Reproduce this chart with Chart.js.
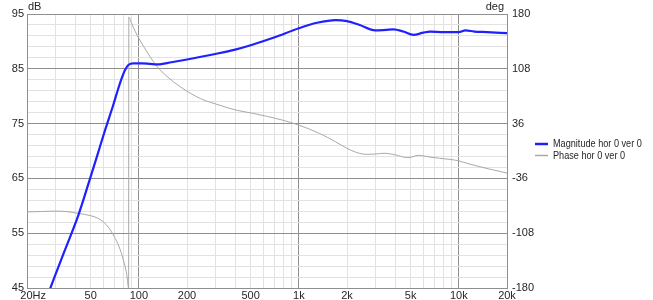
<!DOCTYPE html>
<html><head><meta charset="utf-8">
<script src="https://cdn.jsdelivr.net/npm/chart.js@4/dist/chart.umd.min.js"></script>
<style>html,body{margin:0;padding:0;background:#fff;overflow:hidden;}</style>
</head><body>
<canvas id="c" width="653" height="300"></canvas>
<script>
// ---- data ----
const magFreq = [20, 24, 28, 34.5, 41.9, 49.6, 55, 61.5, 69.2, 74.4, 78.2, 82, 86, 92.4, 104.5, 117.6, 130, 160, 200, 300, 400, 500, 700, 1000, 1300, 1700, 2000, 2400, 3000, 3500, 3900, 4500, 5200, 6000, 6600, 8000, 10000, 11000, 12500, 15000, 20000];
const magDb   = [34, 39.5, 45, 51.9, 58.3, 65, 69.2, 73.8, 78.4, 81.4, 83.3, 84.8, 85.7, 86.0, 86.0, 85.9, 85.8, 86.2, 86.7, 87.7, 88.5, 89.3, 90.7, 92.4, 93.4, 93.9, 93.7, 93.0, 92.0, 92.1, 92.2, 91.8, 91.2, 91.6, 91.8, 91.7, 91.7, 92.0, 91.8, 91.7, 91.5];

const phaseFreq = [20, 25, 30, 35, 42, 50, 55, 60, 65, 70, 75, 80, 84, 86.3, 86.6, 90, 95, 100, 115, 130, 150, 181, 242, 322, 400, 516, 787, 1000, 1350, 1700, 2000, 2300, 2660, 3000, 3400, 4000, 4800, 5600, 6600, 7600, 8800, 10000, 11600, 15000, 20000];
const phaseDeg  = [-80, -79.5, -79, -79.5, -82, -85, -88, -93, -101, -112, -125, -143, -162, -180, 176, 168, 157, 148, 127, 111, 98, 84.5, 69, 60, 54, 49.5, 40.7, 34, 23, 12, 3.5, -2, -4.4, -4, -3, -5, -8.8, -5.7, -8, -9.6, -11, -13, -17, -23, -29];

const xTickValues = [20, 30, 40, 50, 60, 70, 80, 90, 100, 200, 300, 400, 500, 600, 700, 800, 900, 1000, 2000, 3000, 4000, 5000, 6000, 7000, 8000, 9000, 10000, 20000];
const xLabelValues = [20, 50, 100, 200, 500, 1000, 2000, 5000, 10000, 20000];
const xLabelTexts  = ['    20Hz', '50', '100', '200', '500', '1k', '2k', '5k', '10k', '20k'];
const xMajorValues = [100, 1000, 10000];

const yTickValues  = [45, 47, 49, 51, 53, 55, 57, 59, 61, 63, 65, 67, 69, 71, 73, 75, 77, 79, 81, 83, 85, 87, 89, 91, 93, 95];
const yLabelValues = [45, 55, 65, 75, 85, 95];
const y2TickValues = [-180, -108, -36, 36, 108, 180];

const seriesLabels = ['Magnitude hor 0 ver 0', 'Phase hor 0 ver 0'];
const unitLeft = 'dB', unitRight = 'deg';

// ---- styling ----
const FONT_FAMILY = "'Liberation Sans',Arial,sans-serif";
const TXT = '#262626';
const MAJOR = '#8f8f8f';
const MINOR = '#e2e2e2';
const BLUE = '#2020ff';
const GRAY = '#a8a8a8';
const font = {family: FONT_FAMILY, size: 11};

const extras = {
  id: 'extras',
  afterDraw(chart) {
    const {ctx, chartArea} = chart;
    ctx.save();
    ctx.font = `11px ${FONT_FAMILY}`;
    ctx.fillStyle = TXT;
    ctx.textBaseline = 'middle';
    ctx.textAlign = 'left';
    ctx.fillText(unitLeft, chartArea.left + 1, 7);
    ctx.textAlign = 'right';
    ctx.fillText(unitRight, chartArea.right - 3, 7);
    // legend
    const lx = chartArea.right + 28;
    const ly = [144, 155.5];
    chart.data.datasets.forEach((ds, i) => {
      ctx.strokeStyle = ds.borderColor;
      ctx.lineWidth = i === 0 ? 2.5 : 1.5;
      ctx.beginPath();
      ctx.moveTo(lx, ly[i]);
      ctx.lineTo(lx + 13, ly[i]);
      ctx.stroke();
      ctx.save();
      ctx.translate(lx + 18, ly[i]);
      ctx.scale(0.83, 1);
      ctx.textAlign = 'left';
      ctx.fillStyle = TXT;
      ctx.fillText(ds.label, 0, 0);
      ctx.restore();
    });
    ctx.restore();
  }
};

new Chart(document.getElementById('c'), {
  type: 'line',
  data: {
    datasets: [
      {
        label: seriesLabels[0],
        data: magFreq.map((f, i) => ({x: f, y: magDb[i]})),
        borderColor: BLUE, borderWidth: 2.2, pointRadius: 0,
        cubicInterpolationMode: 'monotone', yAxisID: 'y'
      },
      {
        label: seriesLabels[1],
        data: phaseFreq.map((f, i) => ({x: f, y: phaseDeg[i]})),
        borderColor: GRAY, borderWidth: 1, pointRadius: 0,
        cubicInterpolationMode: 'monotone', yAxisID: 'y2'
      }
    ]
  },
  options: {
    responsive: false,
    animation: false,
    devicePixelRatio: 1,
    layout: {padding: {top: 14, left: 0, right: 0, bottom: 0}},
    plugins: {legend: {display: false}, tooltip: {enabled: false}},
    scales: {
      x: {
        type: 'logarithmic', position: 'bottom', min: 20, max: 20000,
        afterBuildTicks: s => { s.ticks = xTickValues.map(v => ({value: v})); },
        afterFit: s => { s.height = 12; },
        ticks: {
          autoSkip: false, maxRotation: 0, minRotation: 0, padding: 1, font, color: TXT,
          callback: v => { const k = xLabelValues.indexOf(v); return k >= 0 ? xLabelTexts[k] : ''; }
        },
        grid: {drawTicks: false, color: c => xMajorValues.includes(c.tick && c.tick.value) ? MAJOR : MINOR},
        border: {color: MAJOR}
      },
      y: {
        position: 'left', min: 45, max: 95,
        afterBuildTicks: s => { s.ticks = yTickValues.map(v => ({value: v})); },
        afterFit: s => { s.width = 27; },
        ticks: {
          autoSkip: false, padding: 3, font, color: TXT,
          callback: v => yLabelValues.includes(v) ? String(v) : ''
        },
        grid: {drawTicks: false, color: c => yLabelValues.includes(c.tick && c.tick.value) ? MAJOR : MINOR},
        border: {color: MAJOR}
      },
      y2: {
        position: 'right', min: -180, max: 180,
        afterBuildTicks: s => { s.ticks = y2TickValues.map(v => ({value: v})); },
        afterFit: s => { s.width = 146; },
        ticks: {autoSkip: false, padding: 5, font, color: TXT, callback: v => String(v)},
        grid: {drawOnChartArea: false, drawTicks: false},
        border: {color: MAJOR}
      }
    }
  },
  plugins: [extras]
});
</script>
</body></html>
